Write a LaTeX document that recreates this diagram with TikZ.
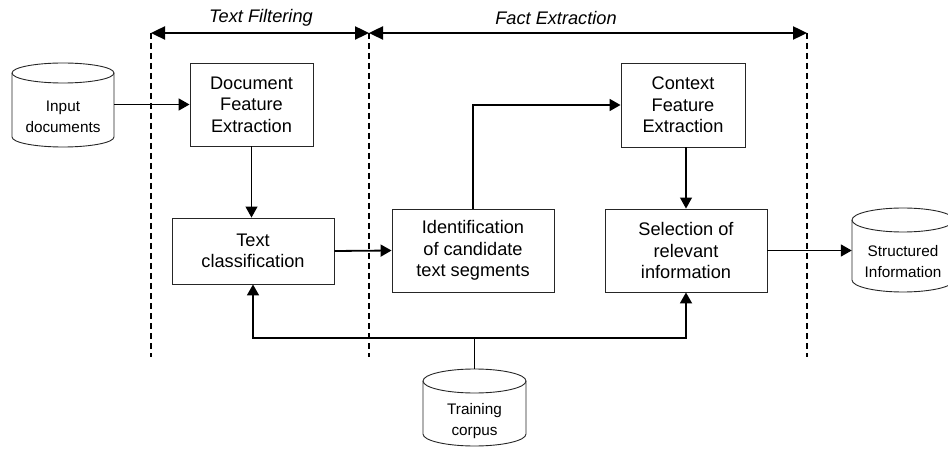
\documentclass[tikz,border=0pt]{standalone}
\usepackage{fontspec}
\setmainfont{Liberation Sans}
\usetikzlibrary{arrows.meta}
\newcommand\cylshape[5]{%
  \pgfmathsetmacro\cylrx{(#3-#1)/2}%
  \draw[cylline] (#1,#2+#5) -- (#1,#4-#5) arc[start angle=180,end angle=0,x radius=\cylrx,y radius=#5] -- (#3,#2+#5) arc[start angle=0,end angle=-180,x radius=\cylrx,y radius=#5] -- cycle;
  \draw[cylline] (#1,#2+#5) arc[start angle=180,end angle=0,x radius=\cylrx,y radius=#5];
}
\begin{document}
\begin{tikzpicture}[x=1pt,y=-1pt,
  box/.style={draw=black!85,line width=0.9pt,align=center,inner sep=0pt,
    font=\fontsize{18.2}{21.5}\selectfont},
  cylbody/.style={inner sep=0pt},
  cylline/.style={draw=black!85,line width=0.9pt},
  cyltext/.style={align=center,inner sep=0pt,font=\fontsize{15.3}{21}\selectfont},
  thk/.style={line width=1.8pt,-{Triangle[length=11pt,width=12pt]}},
  thn/.style={line width=1.1pt,-{Triangle[length=11pt,width=12pt]}},
  phase/.style={line width=2.4pt,{Triangle[length=14pt,width=13pt]}-{Triangle[length=14pt,width=13pt]}},
  sep/.style={line width=1.2pt,dash pattern=on 6pt off 4pt},
  lab/.style={inner sep=0pt,font=\fontsize{18.2}{20}\selectfont\itshape}
]
\useasboundingbox (0,0) rectangle (948,449);

% phase separators
\coordinate (d1t) at (151,33); \coordinate (d1b) at (151,357);
\coordinate (d2t) at (369,33); \coordinate (d2b) at (369,357);
\coordinate (d3t) at (807,33); \coordinate (d3b) at (807,357);
\draw[sep] (d1t) -- (d1b);
\draw[sep] (d2t) -- (d2b);
\draw[sep] (d3t) -- (d3b);
\draw[phase] (d1t) -- (d2t);
\draw[phase] (d2t) -- (d3t);
\node[lab] (tf) at (261,18) {Text Filtering};
\node[lab] (fe) at (556,18) {Fact Extraction};

% boxes
\node[box,minimum width=123pt,minimum height=83pt] (dfe) at (251.5,104.5) {Document\\Feature\\Extraction};
\node[box,minimum width=162pt,minimum height=66pt] (tc) at (253,251) {Text\\classification};
\node[box,minimum width=162pt,minimum height=83pt] (idf) at (473,250.5) {Identification\\of candidate\\text segments};
\node[box,minimum width=124pt,minimum height=84pt] (cfe) at (683,105) {Context\\Feature\\Extraction};
\node[box,minimum width=162pt,minimum height=83pt] (sel) at (686,250.5) {Selection of\\relevant\\information};

% cylinders
\node[cylbody,minimum width=102pt,minimum height=84pt] (inp) at (63,105) {};
\cylshape{12}{63}{114}{147}{10}
\node[cyltext] (inpt) at (63,117) {Input\\documents};

\node[cylbody,minimum width=103pt,minimum height=77pt] (trn) at (474.5,407.5) {};
\cylshape{423}{369}{526}{446}{12}
\node[cyltext] (trnt) at (474.5,421) {Training\\corpus};

\node[cylbody,minimum width=102pt,minimum height=84pt] (str) at (903,250) {};
\cylshape{852}{208}{954}{292}{12}
\node[cyltext] (strt) at (903,261.5) {Structured\\Information};

% connectors
\draw[thk] (inp.east |- dfe.west) -- (dfe.west);
\draw[thn] (dfe.south) -- (dfe.south |- tc.north);
\draw[thk] (tc.east) -- (idf.west);
\draw[thk] (idf.north) |- (cfe.west);
\draw[thn] (sel.north |- cfe.south) -- (sel.north);
\draw[thk] (sel.east) -- (sel.east -| str.west);
\coordinate (j) at (474.5,338);
\draw[line width=1.8pt] (trn.north) -- (j);
\draw[thk] (j) -| (tc.south);
\draw[thk] (j) -| (sel.south);
\end{tikzpicture}
\end{document}
